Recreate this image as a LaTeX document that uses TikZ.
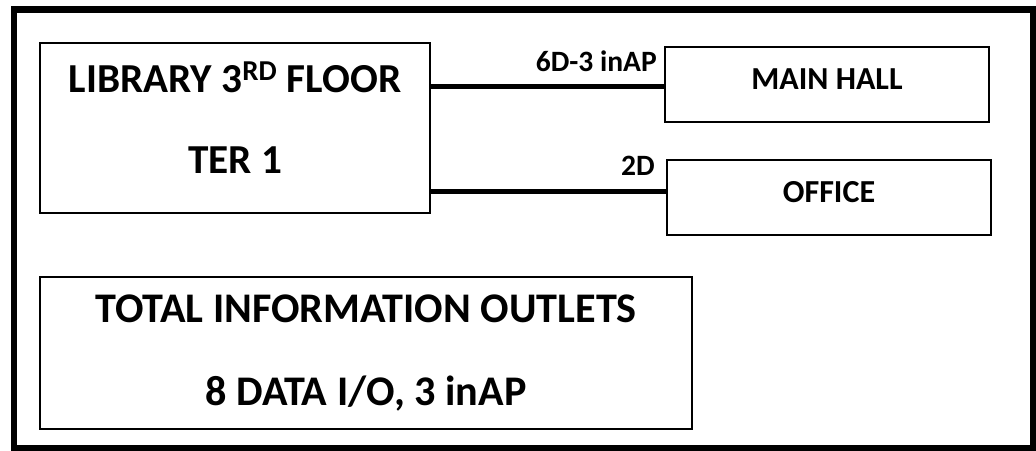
\documentclass[tikz,border=0pt]{standalone}
\usepackage{fontspec}
\setmainfont{Carlito}
\usetikzlibrary{positioning}

\begin{document}
\begin{tikzpicture}[x=0.025cm, y=-0.025cm]
      % Define styles for nodes
      \tikzset{
        bigbox/.style={rectangle, draw, line width=1.2pt, inner sep=0pt, align=center},
        roombox/.style={rectangle, draw, line width=1.2pt, inner sep=0pt, minimum width=8.1cm, minimum height=1.875cm, text depth=0.27cm, font=\bfseries\fontsize{22.8}{26}\selectfont},
        cable/.style={line width=3.6pt},
        cablelabel/.style={font=\bfseries\fontsize{21}{24}\selectfont, inner sep=0pt}
      }
      \useasboundingbox (0,0) rectangle (1036,451);
      \draw[line width=4.6pt] (14,9.5) rectangle (1033,448);

      % Create the boxes
      \node[bigbox, minimum width=9.75cm, minimum height=4.25cm, text height=2.25cm, text depth=0cm, font=\bfseries\fontsize{29.3}{57}\selectfont] (library) at (235,128) {LIBRARY 3\textsuperscript{RD} FLOOR\\TER 1};
      \node[roombox] (mainhall) at (827,84.5) {MAIN HALL};
      \node[roombox, below=0.9cm of mainhall, xshift=0.05cm] (office) {OFFICE};
      \node[bigbox, below=1.55cm of library.south west, anchor=north west, minimum width=16.3cm, minimum height=3.8cm, font=\bfseries\fontsize{30}{59}\selectfont] (total) {TOTAL INFORMATION OUTLETS\\8 DATA I/O, 3 inAP};

      % Draw the cables with their labels
      \draw[cable] ([yshift=-0.04cm]library.east |- mainhall.west) -- node[cablelabel, pos=1, above left=0.3cm and 0.12cm] {6D-3 inAP} ([yshift=-0.04cm]mainhall.west);
      \draw[cable] ([yshift=0.15cm]library.east |- office.west) -- node[cablelabel, pos=1, above left=0.33cm and 0.22cm] {2D} ([yshift=0.15cm]office.west);
    \end{tikzpicture}
\end{document}
